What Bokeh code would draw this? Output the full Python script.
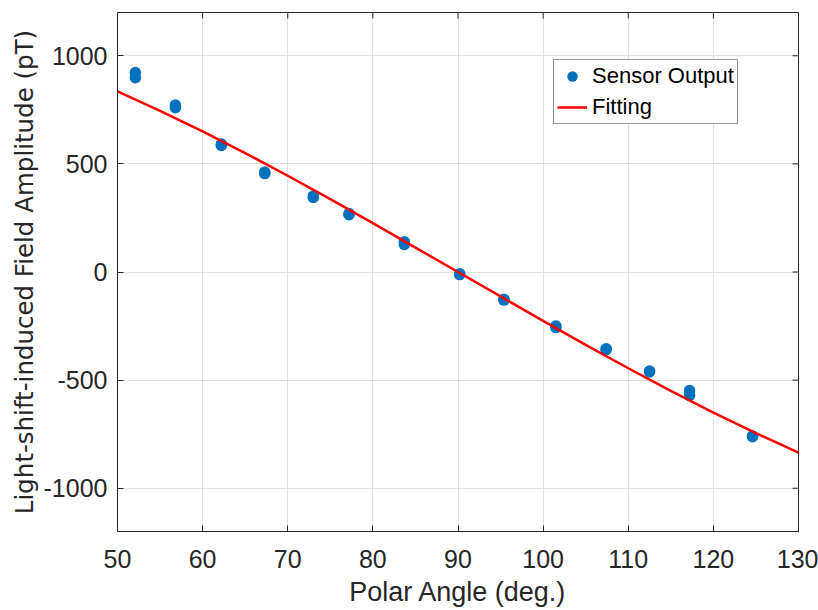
import math
from bokeh.plotting import figure
from bokeh.models import Range1d, FixedTicker, Legend, LegendItem
from bokeh.embed import file_html
from bokeh.resources import INLINE

# Measured data (Sensor Output)
angle_deg = [52.1, 52.1, 56.8, 56.8, 62.2, 62.2, 67.3, 67.3, 73.0, 73.0,
             77.2, 77.2, 83.7, 83.7, 90.2, 90.2, 95.4, 95.4, 101.5, 101.5,
             107.4, 107.4, 112.5, 112.5, 117.2, 117.2, 124.6, 124.6]
field_pT = [922, 898, 772, 760, 592, 585, 462, 455, 352, 345,
            270, 265, 140, 127, -8, -12, -126, -130, -250, -257,
            -355, -359, -458, -462, -548, -571, -758, -762]

# Fitting curve
fit_angle = [50, 55, 60, 65, 70, 75, 80, 85, 90, 95, 100, 105, 110, 115, 120, 125, 130]
fit_field = [835, 745, 650, 550, 445, 337, 226, 113, 0, -113, -226, -337, -445, -550, -650, -745, -835]

x_ticks = [50, 60, 70, 80, 90, 100, 110, 120, 130]
y_ticks = [-1000, -500, 0, 500, 1000]
x_lim = (50, 130)
y_lim = (-1200, 1200)

FONT = "Arial"
TXT = "#262626"

p = figure(width=818, height=610, output_backend="svg", toolbar_location=None,
           x_range=Range1d(*x_lim), y_range=Range1d(*y_lim),
           min_border_left=117, min_border_right=20, min_border_top=12, min_border_bottom=79)
p.background_fill_color = "white"
p.border_fill_color = "white"
p.outline_line_color = TXT
p.outline_line_width = 1

for ax in (p.xaxis[0], p.yaxis[0]):
    ax.major_label_text_font = FONT
    ax.major_label_text_font_size = "25px"
    ax.major_label_text_color = TXT
    ax.axis_label_text_font_style = "normal"
    ax.axis_label_text_color = TXT
    ax.major_tick_in = 6
    ax.major_tick_out = 0
    ax.minor_tick_in = 0
    ax.minor_tick_out = 0
    ax.axis_line_color = TXT
    ax.major_tick_line_color = TXT

p.xaxis[0].ticker = FixedTicker(ticks=x_ticks)
p.yaxis[0].ticker = FixedTicker(ticks=y_ticks)
p.yaxis[0].major_label_overrides = {t: str(t) for t in y_ticks}
p.xaxis[0].axis_label = "Polar Angle (deg.)"
p.yaxis[0].axis_label = "Light-shift-induced Field Amplitude (pT)"
p.xaxis[0].axis_label_text_font = FONT
p.xaxis[0].axis_label_text_font_size = "27px"
p.yaxis[0].axis_label_text_font = "DejaVu Sans"
p.yaxis[0].axis_label_text_font_size = "24.5px"
p.xaxis[0].major_label_standoff = 18
p.xaxis[0].axis_label_standoff = 6
p.yaxis[0].major_label_standoff = 10
p.yaxis[0].axis_label_standoff = 2

# mirrored inward ticks on top and right edges
p.ray(x=x_ticks, y=[y_lim[1]] * len(x_ticks), length=6, length_units="screen",
      angle=-math.pi / 2, line_color=TXT, line_width=1)
p.ray(x=[x_lim[1]] * len(y_ticks), y=y_ticks, length=6, length_units="screen",
      angle=math.pi, line_color=TXT, line_width=1)

p.xgrid.ticker = FixedTicker(ticks=x_ticks)
p.ygrid.ticker = FixedTicker(ticks=y_ticks)
p.grid.grid_line_color = "#e0e0e0"
p.grid.grid_line_width = 1

r_sc = p.scatter(angle_deg, field_pT, size=11.5, marker="circle",
                 fill_color="#0072BD", line_color="#0072BD", line_width=0)
r_fit = p.line(fit_angle, fit_field, line_color="#FF0000", line_width=2.5)

legend = Legend(items=[LegendItem(label="Sensor Output", renderers=[r_sc]),
                       LegendItem(label="Fitting", renderers=[r_fit])],
                location=(436, 407))
legend.label_text_font = FONT
legend.label_text_font_size = "22px"
legend.label_text_color = "black"
legend.glyph_width = 30
legend.glyph_height = 26
legend.label_height = 26
legend.label_standoff = 5
legend.spacing = 5
legend.padding = 3
legend.margin = 0
legend.border_line_color = TXT
legend.border_line_width = 1
legend.background_fill_alpha = 1
p.add_layout(legend, "center")

open("out.html", "w").write(file_html(p, INLINE))
